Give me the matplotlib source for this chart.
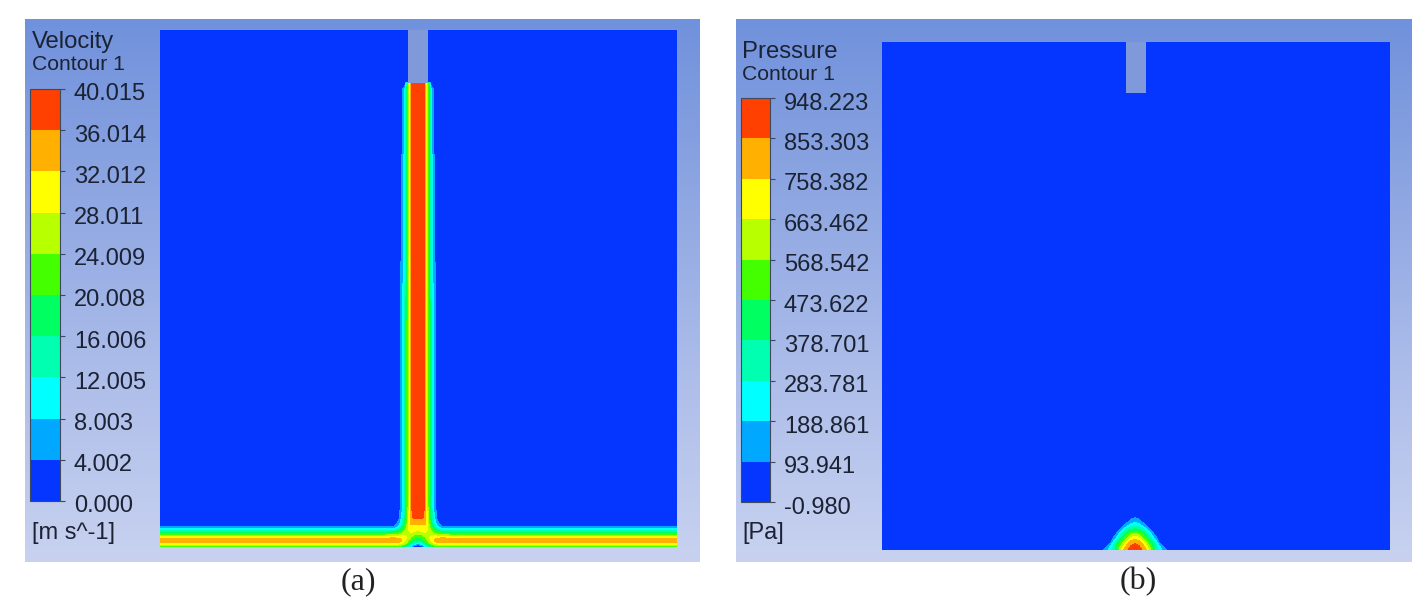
import numpy as np
from matplotlib import pyplot as plt
from matplotlib.cm import ScalarMappable
from matplotlib.colors import LinearSegmentedColormap, ListedColormap, BoundaryNorm
from matplotlib.patches import Rectangle
from matplotlib.transforms import ScaledTranslation

W, H = 1426, 613

band_colors = ['#0536ff', '#00a8ff', '#00ffff', '#00ffb0', '#00ff60',
               '#44ff00', '#b8ff00', '#ffff00', '#ffb000', '#ff4000']
panel_colors = ['#7091dc', '#8fa7e2', '#aebeea', '#c8d2f0']

vel_labels = ['0.000', '4.002', '8.003', '12.005', '16.006', '20.008',
              '24.009', '28.011', '32.012', '36.014', '40.015']
pres_labels = ['-0.980', '93.941', '188.861', '283.781', '378.701', '473.622',
               '568.542', '663.462', '758.382', '853.303', '948.223']

# distance from jet axis, height above wall (one side, mirrored later)
vel_x = [0, 4, 7, 10, 13, 16, 19, 24, 32, 48, 259]
vel_y = [0, 2, 4, 6, 8, 10, 12, 14, 17, 20, 24, 30, 40, 60, 200, 458, 464, 465, 517]
vel_table = [
    [0, 2, 6, 10, 14, 16, 16, 16, 16, 16, 16],
    [3, 6, 11, 16, 21, 24, 25, 26, 26, 26, 26],
    [9, 12, 16, 21, 26, 29, 31, 32, 32, 32, 32],
    [14, 16, 20, 24, 28, 32, 34, 36, 36, 36, 36],
    [18, 19, 22, 26, 29, 31, 33, 35, 34, 34, 34],
    [20, 22, 24, 27, 29, 30, 30, 30, 29, 29, 29],
    [23, 24, 26, 28, 28, 27, 26, 25, 24, 24, 24],
    [26, 27, 28, 28, 26, 24, 22, 20, 19, 19, 19],
    [28, 29, 29, 28, 24, 19, 15, 11, 10, 10, 10],
    [30, 30, 30, 27, 21, 15, 10, 5, 5, 5, 5],
    [33, 33, 33, 26, 18, 12, 6, 1, 0, 0, 0],
    [37, 37, 35, 25, 16, 9, 3, 0, 0, 0, 0],
    [38, 38, 35.5, 24, 14, 7, 2, 0, 0, 0, 0],
    [39, 39, 35.5, 24, 13, 7, 2, 0, 0, 0, 0],
    [39, 39, 35.5, 24, 13, 7, 2, 0, 0, 0, 0],
    [40, 39, 35, 21, 9, 3, 0, 0, 0, 0, 0],
    [40, 39, 35, 21, 0, 0, 0, 0, 0, 0, 0],
    [0, 0, 0, 0, 0, 0, 0, 0, 0, 0, 0],
    [0, 0, 0, 0, 0, 0, 0, 0, 0, 0, 0],
]

pres_x = [0, 4, 8, 12, 16, 20, 24, 28, 32, 36, 260]
pres_y = [0, 4, 8, 12, 16, 20, 24, 28, 32, 36, 508]
pres_table = [
    [948, 900, 835, 745, 568, 378, 260, 165, 94, 0, 0],
    [890, 860, 790, 650, 500, 340, 220, 94, 30, 0, 0],
    [830, 790, 690, 560, 420, 270, 94, 30, 0, 0, 0],
    [730, 680, 570, 420, 290, 150, 40, 0, 0, 0, 0],
    [600, 550, 450, 330, 200, 60, 0, 0, 0, 0, 0],
    [425, 400, 330, 220, 80, 10, 0, 0, 0, 0, 0],
    [284, 250, 180, 90, 15, 0, 0, 0, 0, 0, 0],
    [170, 140, 80, 20, 0, 0, 0, 0, 0, 0, 0],
    [100, 70, 20, 0, 0, 0, 0, 0, 0, 0, 0],
    [0, 0, 0, 0, 0, 0, 0, 0, 0, 0, 0],
    [0, 0, 0, 0, 0, 0, 0, 0, 0, 0, 0],
]

TXT = '#1b2233'
SANS = 'Liberation Sans'


def px_axes(fig, x0, y0, x1, y1):
    # pixel box measured from the top left of the image
    return fig.add_axes([x0 / W, 1 - y1 / H, (x1 - x0) / W, (y1 - y0) / H])


def mirror(x, table):
    x = np.array(x)
    table = np.array(table, dtype=float)
    xx = np.concatenate([-x[:0:-1], x])
    zz = np.hstack([table[:, :0:-1], table])
    return xx, zz


def draw_panel(fig, box, dom, stub, bar, xlim, x, y, table, labels, title, title_y,
               unit, caption, cap_x):
    bg = px_axes(fig, *box)
    cmap_bg = LinearSegmentedColormap.from_list('panel', panel_colors)
    bg.imshow(np.linspace(0, 1, 256).reshape(-1, 1), cmap=cmap_bg, aspect='auto')
    bg.axis('off')

    levels = [float(s) for s in labels]
    cmap = ListedColormap(band_colors)
    norm = BoundaryNorm(levels, cmap.N)
    xx, zz = mirror(x, table)

    ax = px_axes(fig, *dom)
    ax.contourf(xx, y, zz, levels=levels, cmap=cmap, norm=norm, extend='both')
    ax.set_xlim(*xlim)
    ax.set_ylim(0, dom[3] - dom[1])
    ax.axis('off')
    ax.add_patch(Rectangle((stub[0], dom[3] - dom[1] - stub[1]), 20, stub[1],
                           fc='#7f99da', ec='none', zorder=5))

    cax = px_axes(fig, *bar)
    cb = fig.colorbar(ScalarMappable(norm=norm, cmap=cmap), cax=cax, ticks=levels,
                      spacing='uniform')
    cb.outline.set_edgecolor('#3d4a5e')
    cb.outline.set_linewidth(0.8)
    cax.yaxis.set_ticks_position('right')
    cax.minorticks_off()
    cax.set_yticklabels(labels, fontsize=17, family=SANS, color=TXT)
    cax.tick_params(axis='y', length=3.5, width=0.8, color='#3d4a5e', pad=6.5)
    shift = ScaledTranslation(0, -3 / 100, fig.dpi_scale_trans)
    for t in cax.get_yticklabels():
        t.set_transform(t.get_transform() + shift)

    tx = (box[0] + 6.5) / W
    fig.text(tx, 1 - title_y / H, title, fontsize=17.2, family=SANS, color=TXT, va='center')
    fig.text(tx, 1 - (title_y + 22) / H, 'Contour 1', fontsize=15.2, family=SANS,
             color=TXT, va='center')
    fig.text(tx, 1 - 533 / H, unit, fontsize=17, family=SANS, color=TXT, va='center')
    fig.text(cap_x / W, 1 - 582 / H, caption, fontsize=23, family='Liberation Serif',
             color='#222222', ha='center', va='center')


fig = plt.figure(figsize=(W / 100, H / 100), dpi=100, facecolor='white')

draw_panel(fig, (25, 19, 700, 562), (160, 30, 677, 547), (-10, 53), (30, 89, 60, 501),
           (-258, 259), vel_x, vel_y, vel_table, vel_labels, 'Velocity', 42,
           '[m s^-1]', '(a)', 358)
draw_panel(fig, (736, 19, 1412, 562), (882, 42, 1390, 550), (-9, 51), (741, 98, 770, 502),
           (-253, 255), pres_x, pres_y, pres_table, pres_labels, 'Pressure', 52,
           '[Pa]', '(b)', 1138)

fig.savefig('out.png', dpi=100)
